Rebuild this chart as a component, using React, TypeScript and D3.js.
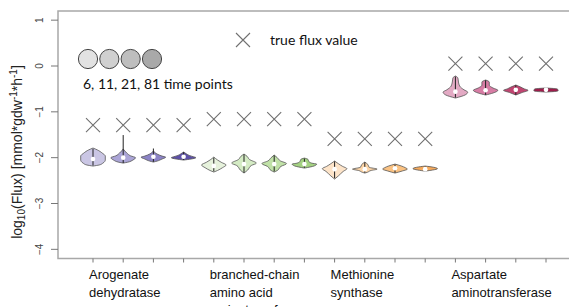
import React, { useEffect, useRef } from "react";
import * as d3 from "d3";

// categories (multi-line labels) and the legend
const categories = [
  ["Arogenate", "dehydratase"],
  ["branched-chain", "amino acid", "aminotransferase"],
  ["Methionine", "synthase"],
  ["Aspartate", "aminotransferase"],
];
const timePoints = [6, 11, 21, 81];
const trueFlux = [-1.29, -1.16, -1.59, 0.05];
const yTicks = [-4, -3, -2, -1, 0, 1];

const legendGrays = ["#e2e2e2", "#d0d0d0", "#bebebe", "#a9a9a9"];
const groupFills = [
  ["#cac6e4", "#aba5d7", "#8b83c6", "#5d50a8"],
  ["#e6f2dc", "#d4ebc4", "#c0e1a7", "#a4d282"],
  ["#fde4c9", "#fdd5a7", "#fbc282", "#f6aa5c"],
  ["#e3aac4", "#d77ca4", "#c14571", "#9f1c4b"],
];

// violin outlines: [log10 flux, relative density]
const profiles: [number, number][][] = [
  [[-1.79, 0], [-1.83, 0.35], [-1.9, 0.75], [-1.965, 1], [-2.05, 1], [-2.12, 0.8], [-2.16, 0.5], [-2.183, 0]],
  [[-1.81, 0], [-1.9, 0.3], [-1.96, 0.6], [-2.0, 1], [-2.05, 0.8], [-2.1, 0.35], [-2.118, 0]],
  [[-1.856, 0], [-1.92, 0.3], [-1.965, 0.7], [-1.99, 1], [-2.03, 0.7], [-2.075, 0.3], [-2.096, 0]],
  [[-1.878, 0], [-1.92, 0.25], [-1.95, 0.45], [-1.98, 0.8], [-2.0, 1], [-2.03, 0.6], [-2.052, 0]],
  [[-1.987, 0], [-2.05, 0.3], [-2.1, 0.6], [-2.16, 1], [-2.22, 0.7], [-2.28, 0.3], [-2.314, 0]],
  [[-1.921, 0], [-1.97, 0.25], [-2.04, 0.45], [-2.12, 1], [-2.17, 0.6], [-2.27, 0.3], [-2.336, 0]],
  [[-1.943, 0], [-2.0, 0.25], [-2.07, 0.5], [-2.13, 1], [-2.19, 0.55], [-2.28, 0.25], [-2.314, 0]],
  [[-2.009, 0], [-2.04, 0.3], [-2.08, 0.35], [-2.12, 0.6], [-2.14, 1], [-2.18, 0.8], [-2.227, 0]],
  [[-2.074, 0], [-2.13, 0.3], [-2.19, 0.65], [-2.24, 1], [-2.3, 0.7], [-2.4, 0.3], [-2.467, 0]],
  [[-2.096, 0], [-2.15, 0.25], [-2.21, 0.35], [-2.25, 1], [-2.28, 0.5], [-2.32, 0.2], [-2.336, 0]],
  [[-2.14, 0], [-2.18, 0.5], [-2.22, 0.85], [-2.25, 1], [-2.29, 0.6], [-2.336, 0]],
  [[-2.183, 0], [-2.21, 0.7], [-2.24, 1], [-2.27, 0.6], [-2.293, 0]],
  [[-0.218, 0], [-0.26, 0.2], [-0.35, 0.25], [-0.44, 0.35], [-0.52, 0.7], [-0.57, 1], [-0.63, 0.8], [-0.699, 0]],
  [[-0.306, 0], [-0.35, 0.3], [-0.42, 0.3], [-0.48, 0.6], [-0.53, 1], [-0.59, 0.6], [-0.633, 0]],
  [[-0.415, 0], [-0.46, 0.4], [-0.5, 0.7], [-0.53, 1], [-0.58, 0.5], [-0.633, 0]],
  [[-0.48, 0], [-0.5, 0.9], [-0.53, 1], [-0.55, 0.9], [-0.568, 0]],
];
const medians = [
  -2.03, -2.0, -1.98, -1.98, -2.18, -2.14, -2.14, -2.14,
  -2.25, -2.25, -2.23, -2.25, -0.56, -0.53, -0.52, -0.52,
];
// whisker ends [top, bottom]
const whiskers: [number, number][] = [
  [-1.81, -2.17], [-1.507, -2.118], [-1.8, -2.09], [-1.88, -2.05],
  [-2.0, -2.3], [-1.93, -2.33], [-1.95, -2.3], [-2.02, -2.22],
  [-2.08, -2.45], [-2.1, -2.33], [-2.15, -2.33], [-2.19, -2.29],
  [-0.23, -0.69], [-0.31, -0.63], [-0.42, -0.63], [-0.49, -0.56],
];

export default function App() {
  const ref = useRef<HTMLDivElement | null>(null);

  useEffect(() => {
    if (!ref.current) return;
    d3.select(ref.current).selectAll("svg").remove();

    const W = 569;
    const H = 307;
    const left = 58;
    const top = 11;
    const bottom = 258.5;

    const y = d3.scaleLinear([-4.2, 1.2], [bottom, top]);
    const x = d3.scaleLinear([0, 15], [93, 546]);
    const w = d3.scaleLinear([0, 1], [0, 12.3]);

    const svg = d3
      .select(ref.current)
      .append("svg")
      .attr("width", W)
      .attr("height", H)
      .style("position", "absolute")
      .style("left", 0)
      .style("top", 0)
      .style("font-family", "Liberation Sans, Arial, sans-serif");

    // frame (no right border)
    svg
      .append("path")
      .attr("d", `M${W},${top}H${left}V${bottom}H${W}`)
      .attr("fill", "none")
      .attr("stroke", "#a8a8a8")
      .attr("stroke-width", 1.5);

    // y axis
    const yg = svg.append("g");
    yg.selectAll("line")
      .data(yTicks)
      .enter()
      .append("line")
      .attr("x1", 51)
      .attr("x2", left)
      .attr("y1", (d) => y(d))
      .attr("y2", (d) => y(d))
      .attr("stroke", "#777");
    yg.selectAll("text")
      .data(yTicks)
      .enter()
      .append("text")
      .attr("transform", (d) => `translate(43,${y(d)}) rotate(-90)`)
      .attr("text-anchor", "middle")
      .attr("font-size", 10)
      .attr("fill", "#444")
      .text((d) => (d < 0 ? "\u2212" + Math.abs(d) : String(d)));

    const title = svg
      .append("text")
      .attr("transform", "translate(22,152) rotate(-90)")
      .attr("text-anchor", "middle")
      .attr("font-size", 14)
      .attr("fill", "#222");
    title.append("tspan").text("log");
    title.append("tspan").attr("font-size", 10).attr("dy", 3).text("10");
    title.append("tspan").attr("dy", -3).text("(Flux) [mmol*gdw");
    title.append("tspan").attr("font-size", 10).attr("dy", -5).text("-1");
    title.append("tspan").attr("dy", 5).text("*h");
    title.append("tspan").attr("font-size", 10).attr("dy", -5).text("-1");
    title.append("tspan").attr("dy", 5).text("]");

    // x ticks
    svg
      .append("g")
      .selectAll("line")
      .data(d3.range(16))
      .enter()
      .append("line")
      .attr("x1", (d) => x(d))
      .attr("x2", (d) => x(d))
      .attr("y1", bottom)
      .attr("y2", bottom + 4)
      .attr("stroke", "#777");

    // category labels
    categories.forEach((lines, g) => {
      const t = svg
        .append("text")
        .attr("x", x(g * 4) - 4)
        .attr("y", 279)
        .attr("font-size", 13)
        .attr("fill", "#111");
      lines.forEach((s, k) => {
        t.append("tspan")
          .attr("x", x(g * 4) - 4)
          .attr("dy", k === 0 ? 0 : 17.5)
          .text(s);
      });
    });

    // true flux crosses
    const cross = "M-7,-7L7,7M-7,7L7,-7";
    svg
      .append("g")
      .selectAll("path")
      .data(d3.range(16))
      .enter()
      .append("path")
      .attr("d", cross)
      .attr("transform", (i) => `translate(${x(i)},${y(trueFlux[Math.floor(i / 4)])})`)
      .attr("stroke", "#707070")
      .attr("stroke-width", 1.1)
      .attr("fill", "none");

    // violins
    profiles.forEach((prof, i) => {
      const cx = x(i);
      const area = d3
        .area<[number, number]>()
        .y((d) => y(d[0]))
        .x0((d) => cx - w(d[1]))
        .x1((d) => cx + w(d[1]))
        .curve(d3.curveMonotoneY);
      svg
        .append("path")
        .attr("d", area(prof))
        .attr("fill", groupFills[Math.floor(i / 4)][i % 4])
        .attr("stroke", "#555")
        .attr("stroke-width", 0.8);
      svg
        .append("line")
        .attr("x1", cx)
        .attr("x2", cx)
        .attr("y1", y(whiskers[i][0]))
        .attr("y2", y(whiskers[i][1]))
        .attr("stroke", "#222")
        .attr("stroke-width", 1);
      svg
        .append("circle")
        .attr("cx", cx)
        .attr("cy", y(medians[i]))
        .attr("r", 2.3)
        .attr("fill", "#fff");
    });

    // legend
    const lx = d3.scaleLinear([0, 3], [88, 152]);
    svg
      .append("g")
      .selectAll("circle")
      .data(timePoints)
      .enter()
      .append("circle")
      .attr("cx", (d, i) => lx(i))
      .attr("cy", 59)
      .attr("r", 9.6)
      .attr("fill", (d, i) => legendGrays[i])
      .attr("stroke", "#444")
      .attr("stroke-width", 1);
    svg
      .append("text")
      .attr("x", 83)
      .attr("y", 89)
      .attr("font-family", "Lato, Open Sans, sans-serif")
      .attr("font-size", 14)
      .attr("fill", "#111")
      .text(timePoints.join(", ") + " time points");

    svg
      .append("path")
      .attr("d", cross)
      .attr("transform", "translate(243,40)")
      .attr("stroke", "#707070")
      .attr("stroke-width", 1.1)
      .attr("fill", "none");
    svg
      .append("text")
      .attr("x", 270)
      .attr("y", 45)
      .attr("font-family", "Lato, Open Sans, sans-serif")
      .attr("font-size", 14)
      .attr("fill", "#111")
      .text("true flux value");
  });

  return <div ref={ref}></div>;
}
